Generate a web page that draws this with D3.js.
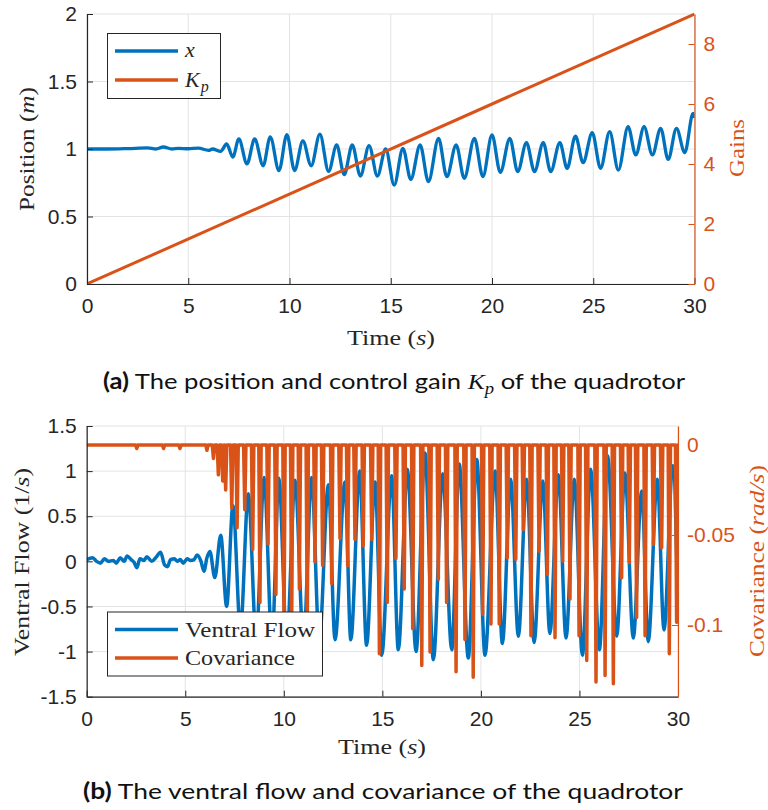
<!DOCTYPE html>
<html><head><meta charset="utf-8">
<script src="https://cdn.jsdelivr.net/npm/d3@7"></script>
<style>body{margin:0;background:#fff}</style>
</head><body>
<svg id="c" width="768" height="810"></svg>
<script>
// ---------------- DATA ----------------
const timeTicks = [0, 5, 10, 15, 20, 25, 30];
const posTicks = [0, 0.5, 1, 1.5, 2];
const gainTicks = [0, 2, 4, 6, 8];
const flowTicks = [-1.5, -1, -0.5, 0, 0.5, 1, 1.5];
const covTicks = [-0.1, -0.05, 0];

// position x (m), read at extrema
const posTime = [0, 1, 2, 3, 3.4, 3.77, 4.2, 4.5, 5, 5.5, 6.0, 6.2, 6.6, 6.9, 7.2, 7.5, 7.9, 8.28, 8.7, 9.05, 9.48, 9.87, 10.25, 10.66, 11.07, 11.5, 11.93, 12.33, 12.7, 13.1, 13.5, 13.93, 14.34, 14.75, 15.17, 15.6, 15.99, 16.45, 16.86, 17.36, 17.77, 18.23, 18.63, 19.13, 19.55, 20.0, 20.41, 20.88, 21.27, 21.7, 22.1, 22.53, 22.9, 23.35, 23.71, 24.12, 24.5, 24.95, 25.36, 25.81, 26.24, 26.72, 27.1, 27.51, 27.92, 28.33, 28.7, 29.11, 29.52, 29.93, 30];
const posValue = [1.0, 1.0, 1.003, 1.008, 1.0, 1.015, 1.0, 1.005, 1.002, 1.006, 0.99, 1.0, 0.983, 1.037, 0.94, 1.074, 0.89, 1.074, 0.876, 1.09, 0.84, 1.106, 0.84, 1.06, 0.876, 1.11, 0.834, 1.03, 0.81, 1.03, 0.80, 1.025, 0.80, 1.0, 0.733, 1.005, 0.775, 1.03, 0.758, 1.079, 0.795, 1.03, 0.783, 1.079, 0.795, 1.104, 0.827, 1.079, 0.832, 1.047, 0.832, 1.047, 0.832, 1.047, 0.857, 1.096, 0.899, 1.121, 0.857, 1.128, 0.844, 1.165, 0.956, 1.165, 0.956, 1.153, 0.923, 1.153, 0.973, 1.264, 1.23];

// control gain Kp
const kpTime = [0, 30];
const kpValue = [0, 9];

// ventral flow (1/s)
const flowTime = [0, 0.3, 0.5, 0.7, 0.9, 1.1, 1.35, 1.5, 1.7, 1.9, 2.05, 2.25, 2.4, 2.55, 2.7, 2.9, 3.05, 3.3, 3.5, 3.75, 3.95, 4.1, 4.25, 4.45, 4.6, 4.75, 4.9, 5.1, 5.25, 5.45, 5.6, 5.8, 5.95, 6.1, 6.25, 6.5, 6.8, 7.1, 7.42, 7.8, 8.2, 8.6, 9.0, 9.4, 9.75, 10.15, 10.57, 11.0, 11.41, 11.8, 12.26, 12.6, 13.1, 13.4, 13.85, 14.2, 14.63, 14.97, 15.47, 15.81, 16.27, 16.71, 17.16, 17.59, 18.06, 18.52, 18.9, 19.36, 19.79, 20.21, 20.72, 21.09, 21.51, 21.9, 22.32, 22.7, 23.14, 23.5, 23.93, 24.32, 24.74, 25.15, 25.57, 26.01, 26.43, 26.89, 27.31, 27.73, 28.16, 28.49, 28.95, 29.29, 29.73, 30];
const flowValue = [0.02, 0.04, 0.0, -0.02, 0.03, 0.0, 0.01, -0.02, 0.04, 0.0, 0.06, 0.02, -0.01, -0.07, 0.03, 0.01, 0.05, 0.0, 0.04, 0.1, -0.04, -0.06, 0.02, 0.03, 0.0, 0.02, -0.02, 0.03, 0.01, 0.02, 0.07, 0.0, -0.11, 0.04, 0.11, -0.18, 0.29, -0.5, 0.62, -0.75, 0.75, -0.85, 0.93, -0.9, 0.92, -0.9, 0.9, -0.9, 0.93, -0.88, 0.85, -0.87, 0.88, -0.87, 1.0, -0.93, 0.88, -1.04, 0.95, -0.98, 1.02, -1.0, 1.2, -1.09, 0.97, -0.98, 1.08, -1.07, 1.13, -1.04, 1.0, -0.91, 0.91, -0.83, 0.91, -0.9, 0.89, -0.8, 0.96, -0.85, 0.91, -1.04, 1.02, -0.98, 1.17, -0.83, 0.98, -0.85, 0.78, -0.89, 0.91, -0.76, 1.06, -0.55];

// covariance (rad/s): downward spikes from 0
const covSpikeTime = [2.54, 3.9, 4.73, 6.1, 6.43, 6.68, 6.9, 7.05, 7.36, 7.63, 8.02, 8.42, 8.79, 9.2, 9.6, 10.01, 10.4, 10.79, 11.19, 11.58, 11.97, 12.43, 12.85, 13.24, 13.61, 14.03, 14.46, 14.85, 15.25, 15.69, 16.11, 16.54, 17.0, 17.42, 17.84, 18.26, 18.74, 19.19, 19.61, 20.09, 20.51, 20.93, 21.34, 21.77, 22.15, 22.54, 22.95, 23.37, 23.76, 24.15, 24.52, 24.98, 25.37, 25.84, 26.3, 26.72, 27.14, 27.53, 27.9, 28.33, 28.75, 29.17, 29.56, 29.93];
const covSpikeDepth = [-0.002, -0.002, -0.002, -0.003, -0.0075, -0.0166, -0.02, -0.025, -0.035, -0.046, -0.036, -0.058, -0.0875, -0.055, -0.083, -0.1, -0.1, -0.080, -0.1, -0.065, -0.067, -0.077, -0.052, -0.067, -0.0525, -0.056, -0.0525, -0.116, -0.0875, -0.063, -0.080, -0.102, -0.1225, -0.115, -0.0746, -0.0875, -0.126, -0.108, -0.129, -0.094, -0.0994, -0.0994, -0.0626, -0.0635, -0.047, -0.106, -0.059, -0.0718, -0.107, -0.0645, -0.0856, -0.106, -0.1197, -0.1317, -0.128, -0.1326, -0.0737, -0.0654, -0.0958, -0.106, -0.0552, -0.0571, -0.116, -0.0985];

// ---------------- STYLE ----------------
const BLUE = "#0072BD", ORANGE = "#D95319", AX = "#262626", GRID = "#e3e3e3";
const SANS = "'Liberation Sans', Arial, sans-serif";
const SERIF = "'Liberation Serif', 'Times New Roman', serif";
const CAP = "Lato, 'Open Sans', sans-serif";
const svg = d3.select("#c");
const fmt = d => String(d);

function panel(cfg) {
  const g = svg.append("g");
  const x = d3.scaleLinear().domain([0, 30]).range([cfg.left, cfg.right]);
  const yl = d3.scaleLinear().domain(cfg.ylDomain).range([cfg.bottom, cfg.top]);
  const yr = d3.scaleLinear().domain(cfg.yrDomain).range([cfg.bottom, cfg.top]);
  const id = "clip" + cfg.name;
  svg.append("clipPath").attr("id", id).append("rect")
    .attr("x", cfg.left).attr("y", cfg.top - 3).attr("width", cfg.right - cfg.left).attr("height", cfg.bottom - cfg.top + 6);
  // grid
  g.append("g").selectAll("line").data(timeTicks).join("line")
    .attr("x1", d => x(d)).attr("x2", d => x(d)).attr("y1", cfg.top).attr("y2", cfg.bottom)
    .attr("stroke", GRID).attr("stroke-width", 1);
  g.append("g").selectAll("line").data(cfg.ylTicks).join("line")
    .attr("x1", cfg.left).attr("x2", cfg.right).attr("y1", d => yl(d)).attr("y2", d => yl(d))
    .attr("stroke", GRID).attr("stroke-width", 1);
  return {g, x, yl, yr, clip: "url(#" + id + ")"};
}

function axes(p, cfg) {
  const {g, x, yl, yr} = p;
  const style = sel => {
    sel.attr("font-family", SANS).attr("font-size", 21);
    sel.select(".domain").attr("stroke-width", 1.2);
  };
  const xa = g.append("g").attr("transform", `translate(0,${cfg.bottom})`)
    .call(d3.axisBottom(x).tickValues(timeTicks).tickFormat(fmt).tickSizeInner(-6).tickSizeOuter(0).tickPadding(cfg.xPad));
  style(xa); xa.selectAll("line,path").attr("stroke", AX); xa.selectAll("text").attr("fill", AX);
  const la = g.append("g").attr("transform", `translate(${cfg.left},0)`)
    .call(d3.axisLeft(yl).tickValues(cfg.ylTicks).tickFormat(fmt).tickSizeInner(-6).tickSizeOuter(0).tickPadding(10));
  style(la); la.selectAll("line,path").attr("stroke", AX); la.selectAll("text").attr("fill", AX);
  const ra = g.append("g").attr("transform", `translate(${cfg.right},0)`)
    .call(d3.axisRight(yr).tickValues(cfg.yrTicks).tickFormat(fmt).tickSizeInner(-6).tickSizeOuter(0).tickPadding(9));
  style(ra); ra.selectAll("line,path").attr("stroke", ORANGE); ra.selectAll("text").attr("fill", ORANGE);
}

// ---------------- TOP PANEL ----------------
const topCfg = {name: "a", left: 87, right: 694.5, top: 14, bottom: 284,
  ylDomain: [0, 2], yrDomain: [0, 9], ylTicks: posTicks, yrTicks: gainTicks, xPad: 14};
const P1 = panel(topCfg);
const posData = d3.zip(posTime, posValue);
const kpData = d3.zip(kpTime, kpValue);
P1.g.append("path").datum(posData).attr("clip-path", P1.clip)
  .attr("d", d3.line().x(d => P1.x(d[0])).y(d => P1.yl(d[1])).curve(d3.curveMonotoneX))
  .attr("fill", "none").attr("stroke", BLUE).attr("stroke-width", 3.3);
P1.g.append("path").datum(kpData).attr("clip-path", P1.clip)
  .attr("d", d3.line().x(d => P1.x(d[0])).y(d => P1.yr(d[1])))
  .attr("fill", "none").attr("stroke", ORANGE).attr("stroke-width", 3);
axes(P1, topCfg);

// legend top
{
  const lg = svg.append("g");
  lg.append("rect").attr("x", 107.5).attr("y", 33.5).attr("width", 113).attr("height", 65)
    .attr("fill", "#fff").attr("stroke", AX).attr("stroke-width", 1);
  lg.append("line").attr("x1", 115).attr("x2", 178).attr("y1", 51).attr("y2", 51).attr("stroke", BLUE).attr("stroke-width", 3.3);
  lg.append("line").attr("x1", 115).attr("x2", 178).attr("y1", 80).attr("y2", 80).attr("stroke", ORANGE).attr("stroke-width", 3.3);
  lg.append("text").attr("x", 185).attr("y", 57).attr("font-family", SERIF).attr("font-style", "italic").attr("font-size", 22).attr("fill", AX).text("x");
  const kt = lg.append("text").attr("x", 185).attr("y", 87).attr("font-family", SERIF).attr("font-style", "italic").attr("font-size", 22).attr("fill", AX);
  kt.append("tspan").text("K");
  kt.append("tspan").attr("font-size", 16).attr("dy", 5).attr("dx", 1).text("p");
}

// axis labels top
svg.append("text").attr("transform", "translate(33.5,149) rotate(-90)").attr("text-anchor", "middle")
  .attr("font-family", SERIF).attr("font-size", 22).attr("fill", AX)
  .attr("textLength", 124).attr("lengthAdjust", "spacingAndGlyphs")
  .call(t => { t.append("tspan").text("Position ("); t.append("tspan").attr("font-style", "italic").text("m"); t.append("tspan").text(")"); });
svg.append("text").attr("transform", "translate(744,148) rotate(-90)").attr("text-anchor", "middle")
  .attr("font-family", SERIF).attr("font-size", 22).attr("fill", ORANGE)
  .attr("textLength", 58).attr("lengthAdjust", "spacingAndGlyphs").text("Gains");
svg.append("text").attr("x", 391).attr("y", 345).attr("text-anchor", "middle")
  .attr("font-family", SERIF).attr("font-size", 22).attr("fill", AX)
  .attr("textLength", 88).attr("lengthAdjust", "spacingAndGlyphs")
  .call(t => { t.append("tspan").text("Time ("); t.append("tspan").attr("font-style", "italic").text("s"); t.append("tspan").text(")"); });

// caption a
svg.append("text").attr("x", 103).attr("y", 389).attr("font-family", CAP).attr("font-size", 22).attr("fill", "#111")
  .attr("textLength", 582).attr("lengthAdjust", "spacingAndGlyphs")
  .call(t => {
    t.append("tspan").attr("font-weight", "bold").text("(a)");
    t.append("tspan").text(" The position and control gain ");
    t.append("tspan").attr("font-family", SERIF).attr("font-style", "italic").text("K");
    t.append("tspan").attr("font-family", SERIF).attr("font-style", "italic").attr("font-size", 16).attr("dy", 5).text("p");
    t.append("tspan").attr("dy", -5).text(" of the quadrotor");
  });

// ---------------- BOTTOM PANEL ----------------
const botCfg = {name: "b", left: 86.7, right: 678, top: 426, bottom: 696.7,
  ylDomain: [-1.5, 1.5], yrDomain: [-0.1398, 0.0105], ylTicks: flowTicks, yrTicks: covTicks, xPad: 14};
const P2 = panel(botCfg);
const flowData = d3.zip(flowTime, flowValue);
const covData = [[0, 0]];
covSpikeTime.forEach((t, i) => { covData.push([t - 0.06, 0], [t, covSpikeDepth[i]], [t + 0.06, 0]); });
covData.push([30, 0]);
P2.g.append("path").datum(flowData).attr("clip-path", P2.clip)
  .attr("d", d3.line().x(d => P2.x(d[0])).y(d => P2.yl(d[1])).curve(d3.curveMonotoneX))
  .attr("fill", "none").attr("stroke", BLUE).attr("stroke-width", 3.5).attr("stroke-linejoin", "round");
P2.g.append("path").datum(covData).attr("clip-path", P2.clip)
  .attr("d", d3.line().x(d => P2.x(d[0])).y(d => P2.yr(d[1])))
  .attr("fill", "none").attr("stroke", ORANGE).attr("stroke-width", 3.5).attr("stroke-linejoin", "round");
axes(P2, botCfg);

// legend bottom
{
  const lg = svg.append("g");
  lg.append("rect").attr("x", 107.5).attr("y", 612).attr("width", 215).attr("height", 64)
    .attr("fill", "#fff").attr("stroke", AX).attr("stroke-width", 1);
  lg.append("line").attr("x1", 115).attr("x2", 178).attr("y1", 629.5).attr("y2", 629.5).attr("stroke", BLUE).attr("stroke-width", 3.3);
  lg.append("line").attr("x1", 115).attr("x2", 178).attr("y1", 658).attr("y2", 658).attr("stroke", ORANGE).attr("stroke-width", 3.3);
  lg.append("text").attr("x", 185).attr("y", 636.5).attr("font-family", SERIF).attr("font-size", 22).attr("fill", AX)
    .attr("textLength", 130).attr("lengthAdjust", "spacingAndGlyphs").text("Ventral Flow");
  lg.append("text").attr("x", 185).attr("y", 665).attr("font-family", SERIF).attr("font-size", 22).attr("fill", AX)
    .attr("textLength", 110).attr("lengthAdjust", "spacingAndGlyphs").text("Covariance");
}

svg.append("text").attr("transform", "translate(28.5,562) rotate(-90)").attr("text-anchor", "middle")
  .attr("font-family", SERIF).attr("font-size", 22).attr("fill", AX)
  .attr("textLength", 188).attr("lengthAdjust", "spacingAndGlyphs")
  .call(t => { t.append("tspan").text("Ventral Flow (1/"); t.append("tspan").attr("font-style", "italic").text("s"); t.append("tspan").text(")"); });
svg.append("text").attr("transform", "translate(764,561) rotate(-90)").attr("text-anchor", "middle")
  .attr("font-family", SERIF).attr("font-size", 22).attr("fill", ORANGE)
  .attr("textLength", 192).attr("lengthAdjust", "spacingAndGlyphs")
  .call(t => { t.append("tspan").text("Covariance ("); t.append("tspan").attr("font-style", "italic").text("rad/s"); t.append("tspan").text(")"); });
svg.append("text").attr("x", 382).attr("y", 754).attr("text-anchor", "middle")
  .attr("font-family", SERIF).attr("font-size", 22).attr("fill", AX)
  .attr("textLength", 88).attr("lengthAdjust", "spacingAndGlyphs")
  .call(t => { t.append("tspan").text("Time ("); t.append("tspan").attr("font-style", "italic").text("s"); t.append("tspan").text(")"); });

svg.append("text").attr("x", 83).attr("y", 799).attr("font-family", CAP).attr("font-size", 22).attr("fill", "#111")
  .attr("textLength", 600).attr("lengthAdjust", "spacingAndGlyphs")
  .call(t => {
    t.append("tspan").attr("font-weight", "bold").text("(b)");
    t.append("tspan").text(" The ventral flow and covariance of the quadrotor");
  });
</script>
</body></html>
